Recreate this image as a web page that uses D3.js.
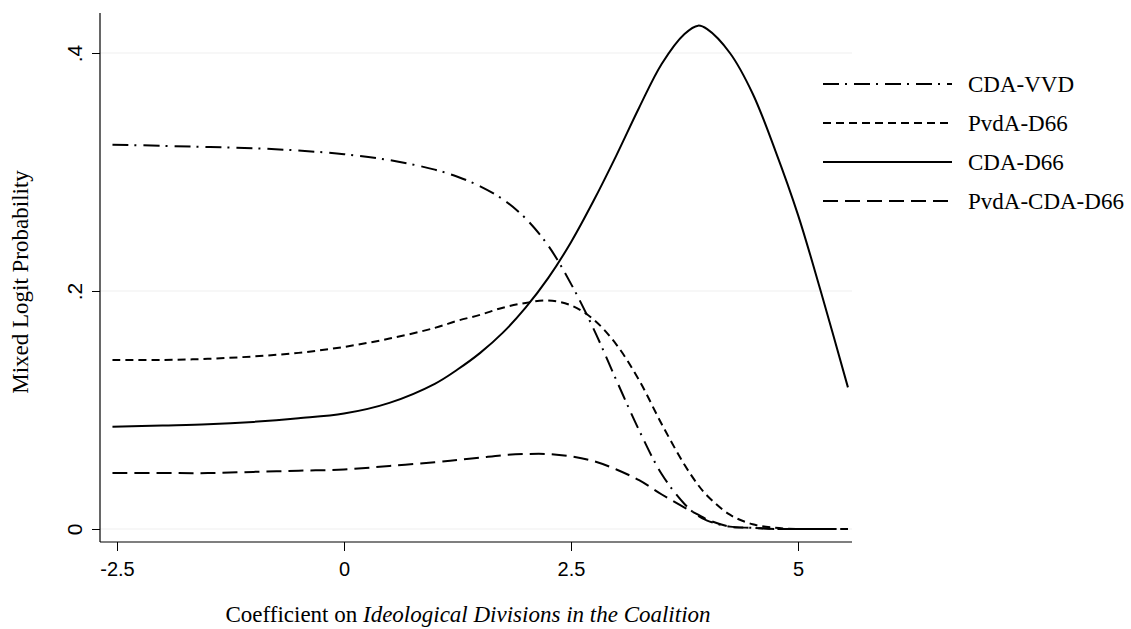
<!DOCTYPE html>
<html>
<head>
<meta charset="utf-8">
<script src="https://cdn.jsdelivr.net/npm/d3@7"></script>
<style>
  html, body { margin: 0; padding: 0; background: #fff; }
  svg { display: block; }
</style>
</head>
<body>
<svg id="chart" width="1131" height="629"></svg>
<script>
// ---- data ----
const xs = [-2.55,-2,-1.5,-1,-0.5,0,0.5,1,1.25,1.5,1.75,2,2.25,2.5,2.75,3,3.25,3.5,3.75,3.9,4,4.25,4.5,4.75,5,5.25,5.55];
const cdaVvd     = [0.323,0.322,0.321,0.320,0.318,0.315,0.310,0.302,0.296,0.288,0.277,0.261,0.238,0.206,0.168,0.125,0.083,0.046,0.021,0.011,0.007,0.002,0.001,0.000,0.000,0.000,0.000];
const pvdaD66    = [0.142,0.142,0.143,0.145,0.148,0.153,0.160,0.169,0.175,0.180,0.186,0.190,0.192,0.188,0.176,0.155,0.125,0.088,0.054,0.037,0.028,0.012,0.004,0.001,0.000,0.000,0.000];
const cdaD66     = [0.086,0.087,0.088,0.090,0.093,0.097,0.106,0.122,0.134,0.148,0.165,0.186,0.211,0.241,0.276,0.314,0.354,0.391,0.416,0.423,0.420,0.400,0.366,0.318,0.264,0.200,0.119];
const pvdaCdaD66 = [0.047,0.047,0.047,0.048,0.049,0.050,0.053,0.056,0.058,0.060,0.062,0.063,0.063,0.061,0.057,0.050,0.041,0.029,0.018,0.012,0.008,0.002,0.001,0.000,0.000,0.000,0.000];
const seriesNames = ["CDA-VVD", "PvdA-D66", "CDA-D66", "PvdA-CDA-D66"];
const xTicks = [-2.5, 0, 2.5, 5];
const xTickLabels = ["-2.5", "0", "2.5", "5"];
const yTicks = [0, 0.2, 0.4];
const yTickLabels = ["0", ".2", ".4"];

// ---- styles ----
const dashes = ["16,6,2,7", "8,5", null, "15,7"];
const serif = "'Liberation Serif', 'Times New Roman', serif";
const sans = "'Liberation Sans', Arial, sans-serif";

const svg = d3.select("#chart");
const frame = { left: 100, right: 852, top: 13, bottom: 542 };

const x = d3.scaleLinear().domain([-2.5, 5]).range([117, 798]);
const y = d3.scaleLinear().domain([0, 0.4]).range([529, 53]);

// gridlines
svg.append("g").selectAll("line").data(yTicks).join("line")
  .attr("x1", frame.left).attr("x2", frame.right)
  .attr("y1", d => y(d)).attr("y2", d => y(d))
  .attr("stroke", "#efefef").attr("stroke-width", 1);

// y axis
const yAxis = svg.append("g").attr("transform", `translate(${frame.left},0)`)
  .call(d3.axisLeft(y).tickValues(yTicks).tickSize(8).tickFormat((d, i) => yTickLabels[i]));
yAxis.select(".domain").remove();
yAxis.selectAll(".tick line").attr("stroke", "#000").attr("stroke-width", 1);
yAxis.selectAll(".tick text")
  .attr("x", null).attr("dy", null)
  .attr("transform", "translate(-18,0) rotate(-90)")
  .attr("text-anchor", "middle")
  .attr("font-family", sans).attr("font-size", 21).attr("fill", "#000");
svg.append("line").attr("x1", frame.left).attr("x2", frame.left)
  .attr("y1", frame.top).attr("y2", frame.bottom)
  .attr("stroke", "#000").attr("stroke-width", 1.2);

// x axis
const xAxis = svg.append("g").attr("transform", `translate(0,${frame.bottom})`)
  .call(d3.axisBottom(x).tickValues(xTicks).tickSize(9).tickFormat((d, i) => xTickLabels[i]));
xAxis.select(".domain").remove();
xAxis.selectAll(".tick line").attr("stroke", "#000").attr("stroke-width", 1);
xAxis.selectAll(".tick text")
  .attr("y", 34).attr("dy", null)
  .attr("font-family", sans).attr("font-size", 20).attr("fill", "#000");
svg.append("line").attr("x1", frame.left).attr("x2", frame.right)
  .attr("y1", frame.bottom).attr("y2", frame.bottom)
  .attr("stroke", "#000").attr("stroke-width", 1.2);

// lines
const allSeries = [cdaVvd, pvdaD66, cdaD66, pvdaCdaD66];
const line = d3.line().x(d => x(d[0])).y(d => y(d[1])).curve(d3.curveCatmullRom.alpha(0.5));
allSeries.forEach((vals, i) => {
  svg.append("path")
    .datum(xs.map((xv, j) => [xv, vals[j]]))
    .attr("d", line)
    .attr("fill", "none").attr("stroke", "#000").attr("stroke-width", 2)
    .attr("stroke-dasharray", dashes[i]);
});

// legend
const legend = svg.append("g");
seriesNames.forEach((name, i) => {
  const ly = 84 + i * 39;
  legend.append("line").attr("x1", 823).attr("x2", 952).attr("y1", ly).attr("y2", ly)
    .attr("stroke", "#000").attr("stroke-width", 2).attr("stroke-dasharray", dashes[i]);
  legend.append("text").attr("x", 968).attr("y", ly + 8)
    .attr("font-family", serif).attr("font-size", 23).attr("fill", "#000").text(name);
});

// axis titles
svg.append("text")
  .attr("transform", `translate(28,282) rotate(-90)`)
  .attr("text-anchor", "middle")
  .attr("font-family", serif).attr("font-size", 23).attr("fill", "#000")
  .text("Mixed Logit Probability");

const xt = svg.append("text")
  .attr("x", 468).attr("y", 622)
  .attr("text-anchor", "middle")
  .attr("font-family", serif).attr("font-size", 23).attr("fill", "#000");
xt.append("tspan").text("Coefficient on ");
xt.append("tspan").attr("font-style", "italic").text("Ideological Divisions in the Coalition");
</script>
</body>
</html>
